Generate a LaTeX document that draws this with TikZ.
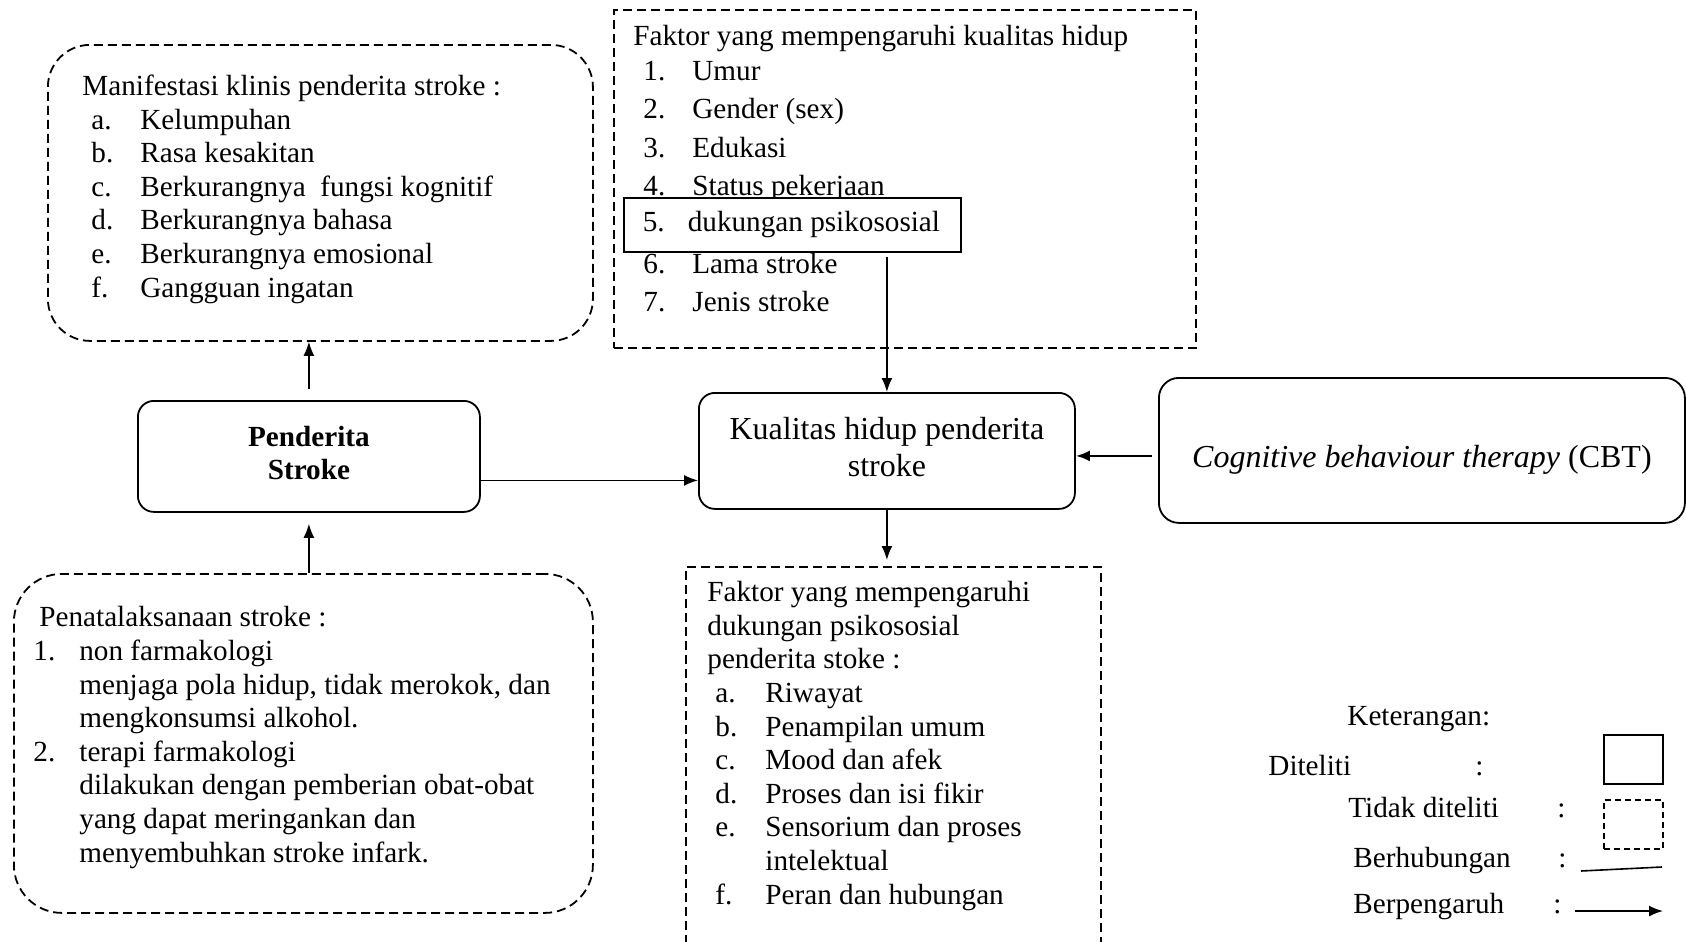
\documentclass[tikz,border=0pt]{standalone}
\usepackage{fontspec}
\setmainfont{Liberation Serif}
\usetikzlibrary{arrows.meta, positioning}

\newcommand{\lbl}[3]{\hspace*{#1}\makebox[#2][l]{#3}}
\newcommand{\mlbl}[1]{\lbl{4.5pt}{24.5pt}{#1}}
\newcommand{\flbl}[1]{\lbl{5pt}{24.5pt}{#1}}
\newcommand{\dlbl}[1]{\lbl{4pt}{25pt}{#1}}
\newcommand{\plbl}[1]{\lbl{0pt}{23pt}{#1}}

\begin{document}
\begin{tikzpicture}[x=0.5pt, y=-0.5pt,
  every node/.style={font=\fontsize{14.6}{16.8}\selectfont},
  diteliti/.style={rectangle, draw, line width=0.9pt, inner sep=0pt, anchor=north west, align=center},
  tdkditeliti/.style={rectangle, draw, line width=0.9pt, dash pattern=on 4.5pt off 2.5pt, inner sep=0pt, anchor=north west},
  teks/.style={inner sep=0pt, align=left, anchor=base west},
  arrow/.style={-{Latex[length=7pt, width=5.5pt]}, line width=0.8pt}
]
\useasboundingbox (0,0) rectangle (1686,942);

% kotak-kotak
\node[tdkditeliti, rounded corners=21pt, minimum width=272.5pt, minimum height=148pt] (manif) at (47,44) {};
\node[tdkditeliti, minimum width=291pt, minimum height=169pt] (faktor) at (613,9) {};
\node[diteliti, rounded corners=8pt, minimum width=171pt, minimum height=55.5pt, text depth=4pt, font=\fontsize{14.6}{16.5}\selectfont\bfseries] (pend) at (137,400) {Penderita\\Stroke};
\node[diteliti, rounded corners=8pt, minimum width=188pt, minimum height=58pt, text depth=4.5pt, font=\fontsize{16}{18.5}\selectfont] (kual) at (698,392) {Kualitas hidup penderita\\stroke};
\node[diteliti, rounded corners=10pt, minimum width=263pt, minimum height=72.5pt, text height=21pt, text depth=3.5pt, font=\fontsize{16}{18.5}\selectfont] (cbt) at (1158,377) {\itshape Cognitive behaviour therapy\/ \upshape(CBT)};
\node[tdkditeliti, draw=none, minimum width=206.5pt, minimum height=187.5pt] (dukung) at (686,567) {};
\draw[line width=0.9pt, dash pattern=on 4.5pt off 2.5pt] (dukung.south west) -- (dukung.north west) -- (dukung.north east) -- (dukung.south east);
\node[tdkditeliti, rounded corners=24pt, minimum width=289.5pt, minimum height=169.5pt] (penata) at (13,573) {};

% isi (anchor = baris terakhir)
\node[teks] (manifteks) at (82,297) {Manifestasi klinis penderita stroke :\\
  \mlbl{a.}Kelumpuhan\\
  \mlbl{b.}Rasa kesakitan\\
  \mlbl{c.}Berkurangnya\ \ fungsi kognitif\\
  \mlbl{d.}Berkurangnya bahasa\\
  \mlbl{e.}Berkurangnya emosional\\
  \mlbl{f.}Gangguan ingatan};
\node[teks, font=\fontsize{14.6}{19.3}\selectfont] (faktorteks) at (633,311.6) {Faktor yang mempengaruhi kualitas hidup\\[-1.8pt]
  \flbl{1.}Umur\\
  \flbl{2.}Gender (sex)\\
  \flbl{3.}Edukasi\\
  \flbl{4.}Status pekerjaan\\
  \strut\\
  \flbl{6.}Lama stroke\\
  \flbl{7.}Jenis stroke};
\node[diteliti, fill=white, line width=0.8pt, inner xsep=9.5pt, minimum height=27pt] (psiko) at (623,197) {\makebox[149.5pt][l]{\lbl{0pt}{22.5pt}{5.}dukungan psikososial}};
\node[teks] (dukungteks) at (707,904) {Faktor yang mempengaruhi\\
  dukungan psikososial\\
  penderita stoke :\\
  \dlbl{a.}Riwayat\\
  \dlbl{b.}Penampilan umum\\
  \dlbl{c.}Mood dan afek\\
  \dlbl{d.}Proses dan isi fikir\\
  \dlbl{e.}Sensorium dan proses\\
  \dlbl{}intelektual\\
  \dlbl{f.}Peran dan hubungan};
\node[teks] (penatateks) at (33,862) {\hspace*{3pt}Penatalaksanaan stroke :\\
  \plbl{1.}non farmakologi\\
  \plbl{}menjaga pola hidup, tidak merokok, dan\\
  \plbl{}mengkonsumsi alkohol.\\
  \plbl{2.}terapi farmakologi\\
  \plbl{}dilakukan dengan pemberian obat-obat\\
  \plbl{}yang dapat meringankan dan\\
  \plbl{}menyembuhkan stroke infark.};

% panah
\draw[arrow, shorten <=5.5pt] (pend.north) -- (pend.north |- manif.south);
\draw[arrow, shorten >=5.5pt] (pend.south |- penata.north) -- (pend.south);
\draw[arrow] ([yshift=-12pt]pend.east) -- ([yshift=-12pt]pend.east -| kual.west);
\draw[arrow, shorten <=2pt] (kual.north |- psiko.south) -- (kual.north);
\draw[arrow, shorten >=3.5pt] (kual.south) -- (kual.south |- dukung.north);
\draw[arrow, line width=1.2pt, shorten <=3pt] ([yshift=-2.5pt]kual.east -| cbt.west) -- ([yshift=-2.5pt]kual.east);

% keterangan
\node[teks] (keter) at (1347,725) {Keterangan:};
\node[teks] (lgdit) at (1268,775) {Diteliti};
\node[teks] (lgditk) at (1475,775) {:};
\node[diteliti, minimum width=29.5pt, minimum height=24.5pt] (lgditbox) at (1603,734) {};
\node[teks] (lgtdk) at (1348,817) {Tidak diteliti};
\node[teks] (lgtdkk) at (1557,817) {:};
\node[tdkditeliti, dash pattern=on 3pt off 2pt, minimum width=29.5pt, minimum height=24.5pt] (lgtdkbox) at (1603,799) {};
\node[teks] (lghub) at (1353,867) {Berhubungan};
\node[teks] (lghubk) at (1558,867) {:};
\coordinate (hub1) at (1581,871);
\coordinate (hub2) at (1662,867);
\draw[line width=0.8pt] (hub1) -- (hub2);
\node[teks] (lgpgr) at (1353,913) {Berpengaruh};
\node[teks] (lgpgrk) at (1553,913) {:};
\coordinate (pgr1) at (1575,911);
\coordinate (pgr2) at (1663,911);
\draw[arrow] (pgr1) -- (pgr2);
\end{tikzpicture}
\end{document}
